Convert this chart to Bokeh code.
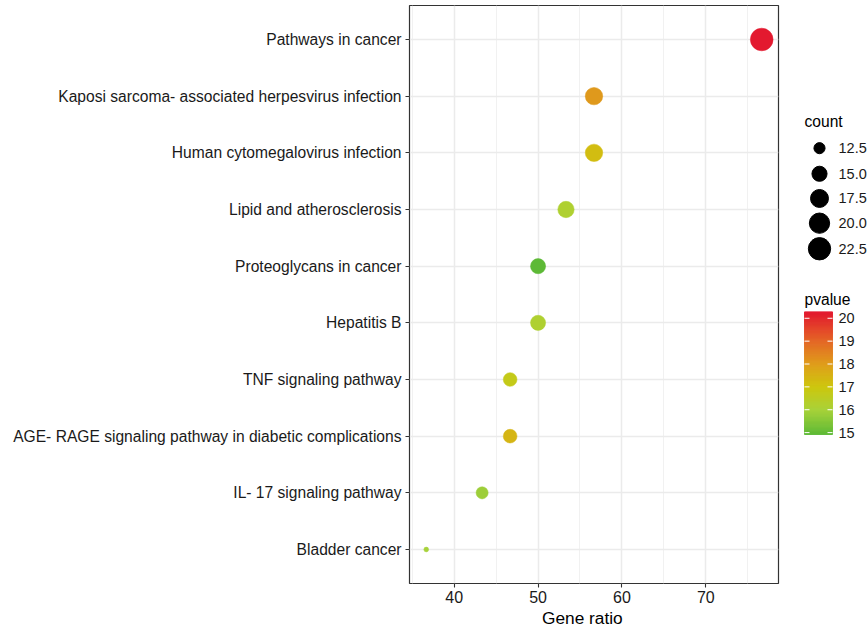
import numpy as np
from bokeh.plotting import figure
from bokeh.layouts import row
from bokeh.models import Range1d, FixedTicker, LinearColorMapper, ColumnDataSource, Title
from bokeh.core.properties import value
from bokeh.embed import file_html
from bokeh.resources import INLINE

# ---------------- data ----------------
terms = ["Pathways in cancer",
         "Kaposi sarcoma- associated herpesvirus infection",
         "Human cytomegalovirus infection",
         "Lipid and atherosclerosis",
         "Proteoglycans in cancer",
         "Hepatitis B",
         "TNF signaling pathway",
         "AGE- RAGE signaling pathway in diabetic complications",
         "IL- 17 signaling pathway",
         "Bladder cancer"]
gene_ratio = [76.67, 56.67, 56.67, 53.33, 50.0, 50.0, 46.67, 46.67, 43.33, 36.67]
counts = [23, 17, 17, 16, 15, 15, 14, 14, 13, 11]
pvalues = [20.28, 18.1, 17.25, 16.2, 14.92, 16.2, 16.75, 17.45, 15.85, 16.0]

x_ticks = [40, 50, 60, 70]
x_minor = [35, 45, 55, 65, 75]
size_breaks = [12.5, 15.0, 17.5, 20.0, 22.5]
pvalue_breaks = [15, 16, 17, 18, 19, 20]

# colour scale anchors (green -> yellow -> red)
anchor_vals = [14.92, 16.0, 17.0, 18.0, 19.0, 20.28]
anchor_cols = ["#5DB936", "#A8D23A", "#CDC70E", "#DF9E1B", "#E46826", "#E3192F"]

FONT = "Liberation Sans"

# ---------------- scales ----------------
def hex2rgb(h):
    h = h.lstrip("#")
    return [int(h[i:i + 2], 16) for i in (0, 2, 4)]

pmin, pmax = min(pvalues), max(pvalues)
N = 256
grid_v = np.linspace(pmin, pmax, N)
rgb = np.array([hex2rgb(c) for c in anchor_cols], dtype=float)
palette = []
for v in grid_v:
    r = np.interp(v, anchor_vals, rgb[:, 0])
    g = np.interp(v, anchor_vals, rgb[:, 1])
    b = np.interp(v, anchor_vals, rgb[:, 2])
    palette.append("#%02x%02x%02x" % (int(round(r)), int(round(g)), int(round(b))))
mapper = LinearColorMapper(palette=palette, low=pmin, high=pmax)

cmin, cmax = min(counts), max(counts)
def size_px(c):
    s = 1 + 5 * np.sqrt(max(c - cmin, 0) / (cmax - cmin))
    return 1.26 * (2.845 * s + 0.945)

n = len(terms)
ypos = [n - i for i in range(n)]
src = ColumnDataSource(dict(x=gene_ratio, y=ypos, c=pvalues,
                            s=[size_px(c) for c in counts], term=terms))

xspan = max(gene_ratio) - min(gene_ratio)
x0, x1 = min(gene_ratio) - 0.05 * xspan, max(gene_ratio) + 0.05 * xspan
xr = Range1d(x0, x1)
yr = Range1d(0.4, n + 0.6)

FW, FH = 369, 578

# ---------------- main figure ----------------
p = figure(width=790, height=632, frame_width=FW, frame_height=FH,
           x_range=xr, y_range=yr, output_backend="svg", toolbar_location=None,
           min_border_left=409, min_border_right=12, min_border_top=5, min_border_bottom=49)
p.background_fill_color = "white"
p.border_fill_color = "white"
p.outline_line_color = "#333333"
p.outline_line_width = 1.2

p.scatter("x", "y", source=src, size="s",
          fill_color={"field": "c", "transform": mapper},
          line_color={"field": "c", "transform": mapper}, line_width=0.5)

p.xaxis.ticker = FixedTicker(ticks=x_ticks, minor_ticks=x_minor)
p.yaxis.ticker = FixedTicker(ticks=ypos)
p.yaxis.major_label_overrides = {y: t for y, t in zip(ypos, terms)}

for ax in (p.xaxis[0], p.yaxis[0]):
    ax.axis_line_color = None
    ax.major_tick_line_color = "#333333"
    ax.major_tick_line_width = 1.1
    ax.major_tick_out = 4
    ax.major_tick_in = 0
    ax.minor_tick_line_color = None
    ax.major_label_text_font = FONT
    ax.major_label_text_color = "#1a1a1a"
p.yaxis.major_label_text_font_size = "15.6px"
p.xaxis.major_label_text_font_size = "16px"
p.yaxis.major_label_standoff = 4
p.xaxis.major_label_standoff = 3

# x-axis title, slightly left of the panel centre as in the original
xt = Title(text="Gene ratio", align="left", offset=132.5, text_font=FONT,
           text_font_size="17.3px", text_font_style="normal", text_color="#000000",
           standoff=0)
p.add_layout(xt, "below")

p.grid.grid_line_color = "#EBEBEB"
p.grid.grid_line_width = 1.5
p.xgrid.minor_grid_line_color = "#EFEFEF"
p.xgrid.minor_grid_line_width = 0.9
p.ygrid.minor_grid_line_color = None
p.grid.level = "underlay"

# ---------------- legend panel ----------------
L = figure(width=77, height=632, x_range=Range1d(790, 867), y_range=Range1d(632, 0),
           output_backend="svg", toolbar_location=None, x_axis_type=None, y_axis_type=None,
           min_border=0, min_border_left=0, min_border_right=0, min_border_top=0, min_border_bottom=0)
L.outline_line_color = None
L.grid.grid_line_color = None
L.background_fill_color = "white"
L.border_fill_color = "white"

# size legend
L.text(x=[804], y=[127], text=["count"], text_baseline="middle", text_font=value(FONT),
       text_font_size="15.6px", text_color="#000000")
key_y = [156, 184, 211, 238, 266]
L.scatter(x=[819] * len(size_breaks), y=key_y, size=[size_px(b) for b in size_breaks],
          fill_color="black", line_color="black")
L.text(x=[838] * len(size_breaks), y=key_y, text=["%.1f" % b for b in size_breaks],
       text_baseline="middle", text_font=value(FONT), text_font_size="14.5px", text_color="#1a1a1a")

# colour bar
L.text(x=[804], y=[322], text=["pvalue"], text_baseline="middle", text_font=value(FONT),
       text_font_size="15.6px", text_color="#000000")
bar_top, bar_bot = 335, 469
px_per = (bar_bot - bar_top) / (pmax - pmin)
def bar_y(v):
    return bar_bot - (v - pmin) * px_per
nb = 134
vals = np.linspace(pmin, pmax, nb + 1)
mids = (vals[:-1] + vals[1:]) / 2
cols = [palette[min(N - 1, int((m - pmin) / (pmax - pmin) * N))] for m in mids]
L.quad(left=804, right=832, top=[bar_y(v) for v in vals[1:]], bottom=[bar_y(v) for v in vals[:-1]],
       fill_color=cols, line_color=cols, line_width=1)
ty = [bar_y(v) for v in pvalue_breaks]
L.segment(x0=[804] * 6, x1=[809] * 6, y0=ty, y1=ty, line_color="white", line_width=1)
L.segment(x0=[827] * 6, x1=[832] * 6, y0=ty, y1=ty, line_color="white", line_width=1)
L.text(x=[838] * 6, y=ty, text=[str(b) for b in pvalue_breaks], text_baseline="middle",
       text_font=value(FONT), text_font_size="14.5px", text_color="#1a1a1a")

layout = row(p, L)
open("out.html", "w").write(file_html(layout, INLINE))
